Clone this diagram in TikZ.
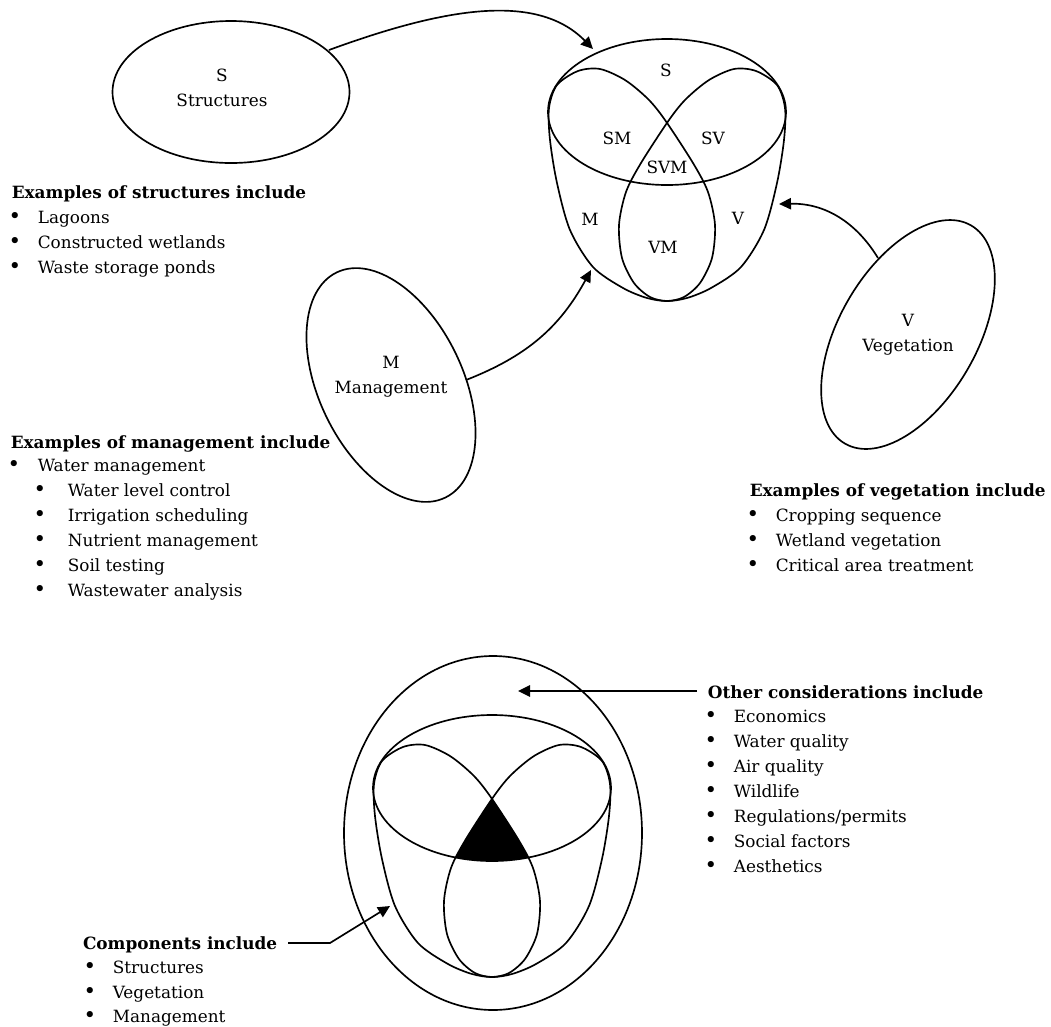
\documentclass[tikz,border=0pt]{standalone}
\usepackage{fontspec}
\setmainfont{DejaVu Serif}
\usetikzlibrary{arrows.meta}
\newcommand\vennS{(667,-112) ellipse [x radius=119, y radius=73]}
\newcommand\vennM{plot[smooth cycle] coordinates {(667,-301) (647,-298) (623,-288) (593,-267) (570,-230) (557,-183) (550,-140) (549,-108) (557,-85) (578,-71) (600,-69) (625,-80) (648,-99) (665,-120) (693,-163) (708,-192) (715,-225) (712,-258) (700,-283) (684,-297)}}
\newcommand\vennV{plot[smooth cycle] coordinates {(667,-301) (687,-298) (711,-288) (741,-267) (764,-230) (777,-183) (784,-140) (785,-108) (777,-85) (756,-71) (734,-69) (709,-80) (686,-99) (669,-120) (641,-163) (626,-192) (619,-225) (622,-258) (634,-283) (650,-297)}}
\begin{document}
\begin{tikzpicture}[x=0.75pt,y=0.75pt, line width=1.25pt,
  txt/.style={anchor=base west, inner sep=0pt, font=\fontsize{12.65}{15}\selectfont},
  hd/.style={anchor=base west, inner sep=0pt, font=\fontsize{12.65}{15}\selectfont\bfseries},
  bul/.style={anchor=base, inner sep=0pt, font=\fontsize{16}{18}\selectfont},
  lbl/.style={anchor=base, inner sep=0pt, font=\fontsize{12.65}{15}\selectfont},
  arr/.style={-{Triangle[length=9pt,width=8.5pt]}}]
\useasboundingbox (0,0) rectangle (1051,-1026);

% ---------- top Venn ----------
\draw \vennS;
\draw \vennM;
\draw \vennV;
\node[lbl] (tS) at (666,-76) {S};
\node[lbl] (tSM) at (617,-144) {SM};
\node[lbl] (tSV) at (713,-144) {SV};
\node[lbl] (tSVM) at (667,-173) {SVM};
\node[lbl] (tM) at (590,-225) {M};
\node[lbl] (tVM) at (663,-253) {VM};
\node[lbl] (tV) at (738,-224) {V};

% ---------- component ellipses ----------
\draw (231,-92) ellipse [x radius=118.5, y radius=71];
\node[lbl] (eS) at (222,-81) {S};
\node[lbl] (eSt) at (222,-106) {Structures};

\draw[rotate around={-64.3:(391,-385)}] (391,-385) ellipse [x radius=125, y radius=72];
\node[lbl] (eM) at (391,-368) {M};
\node[lbl] (eMt) at (391,-393) {Management};

\draw[rotate around={60:(908,-334.5)}] (908,-334.5) ellipse [x radius=126, y radius=69];
\node[lbl] (eV) at (908,-326) {V};
\node[lbl] (eVt) at (908,-351) {Vegetation};

% ---------- arrows to top Venn ----------
\coordinate (sStart) at (329,-50);
\coordinate (sEnd) at (593,-49);
\draw[arr] (sStart) .. controls (441,-9) and (536,9) .. (sEnd);
\coordinate (mStart) at (466,-380);
\coordinate (mEnd) at (591,-270);
\draw[arr] (mStart) to[bend right=20] (mEnd);
\coordinate (vStart) at (878,-258);
\coordinate (vEnd) at (779,-204);
\draw[arr] (vStart) to[bend right=30] (vEnd);

% ---------- lists ----------
\node[hd] (hS) at (11,-198) {Examples of structures include};
\node[bul] (bS1) at (15,-223) {\textbullet};
\node[txt] (lS1) at (37,-223) {Lagoons};
\node[bul] (bS2) at (15,-248) {\textbullet};
\node[txt] (lS2) at (37,-248) {Constructed wetlands};
\node[bul] (bS3) at (15,-273) {\textbullet};
\node[txt] (lS3) at (37,-273) {Waste storage ponds};

\node[hd] (hM) at (10,-448) {Examples of management include};
\node[bul] (bM1) at (14,-471) {\textbullet};
\node[txt] (lM1) at (37,-471) {Water management};
\node[bul] (bM2) at (40,-496) {\textbullet};
\node[txt] (lM2) at (67,-496) {Water level control};
\node[bul] (bM3) at (40,-521) {\textbullet};
\node[txt] (lM3) at (67,-521) {Irrigation scheduling};
\node[bul] (bM4) at (40,-546) {\textbullet};
\node[txt] (lM4) at (67,-546) {Nutrient management};
\node[bul] (bM5) at (40,-571) {\textbullet};
\node[txt] (lM5) at (67,-571) {Soil testing};
\node[bul] (bM6) at (40,-596) {\textbullet};
\node[txt] (lM6) at (67,-596) {Wastewater analysis};

\node[hd] (hV) at (749,-496) {Examples of vegetation include};
\node[bul] (bV1) at (753,-521) {\textbullet};
\node[txt] (lV1) at (775,-521) {Cropping sequence};
\node[bul] (bV2) at (753,-546) {\textbullet};
\node[txt] (lV2) at (775,-546) {Wetland vegetation};
\node[bul] (bV3) at (753,-571) {\textbullet};
\node[txt] (lV3) at (775,-571) {Critical area treatment};

% ---------- bottom Venn ----------
\draw (493,-833) ellipse [x radius=149, y radius=177];
\begin{scope}[shift={(-175,-676)}]
  \begin{scope}
    \clip \vennS;
    \clip \vennM;
    \fill \vennV;
  \end{scope}
  \draw \vennS;
  \draw \vennM;
  \draw \vennV;
\end{scope}

\node[hd] (hO) at (707,-698) {Other considerations include};
\node[bul] (bO1) at (711,-722) {\textbullet};
\node[txt] (lO1) at (733,-722) {Economics};
\node[bul] (bO2) at (711,-747) {\textbullet};
\node[txt] (lO2) at (733,-747) {Water quality};
\node[bul] (bO3) at (711,-772) {\textbullet};
\node[txt] (lO3) at (733,-772) {Air quality};
\node[bul] (bO4) at (711,-797) {\textbullet};
\node[txt] (lO4) at (733,-797) {Wildlife};
\node[bul] (bO5) at (711,-822) {\textbullet};
\node[txt] (lO5) at (733,-822) {Regulations/permits};
\node[bul] (bO6) at (711,-847) {\textbullet};
\node[txt] (lO6) at (733,-847) {Social factors};
\node[bul] (bO7) at (711,-872) {\textbullet};
\node[txt] (lO7) at (733,-872) {Aesthetics};

\coordinate (oStart) at (697,-691);
\coordinate (oEnd) at (518,-691);
\draw[arr] (oStart) -- (oEnd);

\node[hd, anchor=base east] (hC) at (278,-949) {Components include};
\node[bul] (bC1) at (90,-973) {\textbullet};
\node[txt] (lC1) at (112,-973) {Structures};
\node[bul] (bC2) at (90,-998) {\textbullet};
\node[txt] (lC2) at (112,-998) {Vegetation};
\node[bul] (bC3) at (90,-1022) {\textbullet};
\node[txt] (lC3) at (112,-1022) {Management};

\coordinate (cStart) at (288,-943);
\coordinate (cKnee) at (330,-943);
\coordinate (cEnd) at (390,-906);
\draw[arr] (cStart) -- (cKnee) -- (cEnd);
\end{tikzpicture}
\end{document}
